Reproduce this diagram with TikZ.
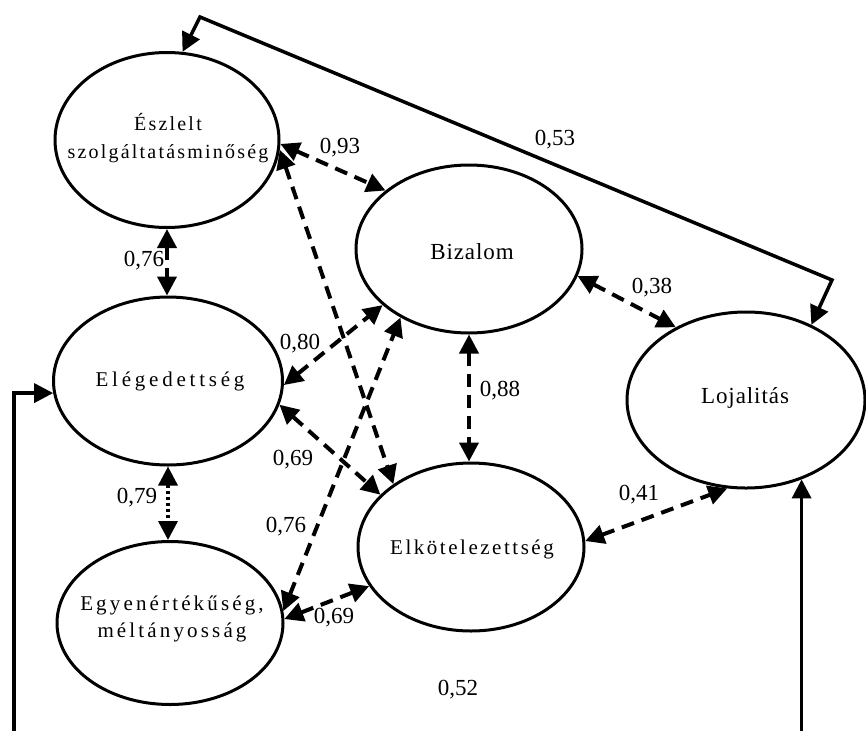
\documentclass[tikz,border=0pt]{standalone}
\usepackage{fontspec}
\setmainfont{Liberation Serif}
\newfontfamily\cfontA[LetterSpace=11]{Liberation Serif}
\newfontfamily\cfontB[LetterSpace=4]{Liberation Serif}
\newfontfamily\cfontC[LetterSpace=18]{Liberation Serif}
\newfontfamily\cfontD[LetterSpace=15]{Liberation Serif}
\newfontfamily\cfontE[LetterSpace=12]{Liberation Serif}
\usetikzlibrary{shapes.geometric,arrows.meta}
\begin{document}
\begin{tikzpicture}[x=1pt,y=-1pt,
  >={Triangle[length=19pt,width=19pt]},
  construct/.style={ellipse,draw,line width=3pt,inner sep=0pt},
  cname/.style={align=center,inner sep=0pt},
  coef/.style={font=\fontsize{23}{26}\selectfont,inner sep=0pt},
  corr/.style={<->,line width=4pt,dash pattern=on 13pt off 8pt},
  corrdot/.style={<->,line width=3.5pt,dash pattern=on 3pt off 3pt},
  loyline/.style={<->,line width=3.5pt},
  effect/.style={->,line width=3.5pt}]
\useasboundingbox (0,0) rectangle (866,731);

% latent constructs
\node[construct,minimum width=224pt,minimum height=175pt] (e1) at (167,140) {};
\node[construct,minimum width=229pt,minimum height=168pt] (eleg) at (168,381) {};
\node[construct,minimum width=226pt,minimum height=163pt] (egy) at (170,623) {};
\node[construct,minimum width=226pt,minimum height=168pt] (biz) at (469,249) {};
\node[construct,minimum width=226pt,minimum height=168pt] (elk) at (471,547) {};
\node[construct,minimum width=238pt,minimum height=176pt] (loj) at (746,400) {};

% construct names
\node[cname,font=\cfontA\fontsize{20}{28}\selectfont] (e1t) at (168,138) {Észlelt\\szolgáltatásminőség};
\node[cname,font=\cfontC\fontsize{21}{27}\selectfont] (elegt) at (170,381) {Elégedettség};
\node[cname,font=\cfontD\fontsize{21}{27}\selectfont] (egyt) at (172,619) {Egyenértékűség,\\méltányosság};
\node[cname,font=\cfontB\fontsize{23}{27}\selectfont] (bizt) at (472,252) {Bizalom};
\node[cname,font=\cfontE\fontsize{21}{27}\selectfont] (elkt) at (472,549) {Elkötelezettség};
\node[cname,font=\cfontB\fontsize{23}{27}\selectfont] (lojt) at (745,398) {Lojalitás};

% correlations
\draw[corr] (e1.-2) -- (biz.145);
\draw[corr] (e1.-5) -- (elk.141);
\draw[corr] (e1.south) -- (e1.south |- eleg.north);
\draw[corr] (eleg.-2) -- (biz.213);
\draw[corr] (eleg.-12) -- (elk.150);
\draw[corrdot] (eleg.south) -- (eleg.south |- egy.north);
\draw[corr] (egy.6) -- (biz.225);
\draw[corr] (egy.2) -- (elk.201);
\draw[corr] (biz.south) -- (biz.south |- elk.north);
\draw[corr] (biz.-14) -- (loj.134);
\draw[corr] (elk.3.5) -- (loj.258);

% paths to loyalty
\coordinate (tl) at (200,17);
\coordinate (tr) at (832,280);
\draw[loyline,line join=miter] (e1.80) -- (tl) -- (tr) -- (loj.49);
\coordinate (lb) at (14,731);
\draw[effect,line join=miter] (lb) |- (eleg.186);
\coordinate (rb) at (loj.-55 |- 0,731);
\draw[effect] (rb) -- (loj.-55);

% coefficients
\node[coef] (c1) at (340,148) {0,93};
\node[coef] (c2) at (144,261) {0,76};
\node[coef] (c3) at (137,498) {0,79};
\node[coef] (c4) at (300,344) {0,80};
\node[coef] (c5) at (286,527) {0,76};
\node[coef] (c6) at (334,618) {0,69};
\node[coef] (c7) at (293,460) {0,69};
\node[coef] (c8) at (500,391) {0,88};
\node[coef] (c9) at (652,288) {0,38};
\node[coef] (c10) at (639,495) {0,41};
\node[coef] (c11) at (555,140) {0,53};
\node[coef] (c12) at (458,690) {0,52};
\end{tikzpicture}
\end{document}
